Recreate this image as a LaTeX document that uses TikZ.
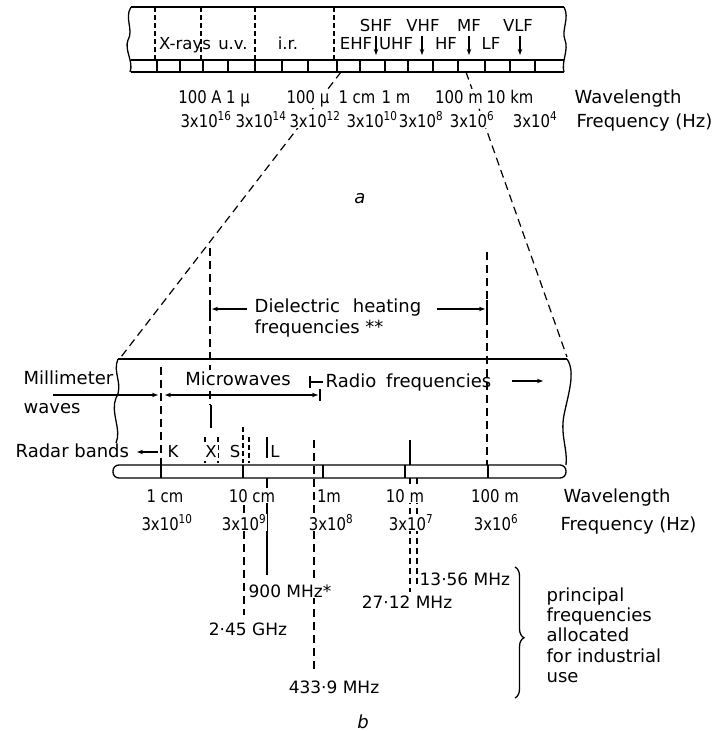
\documentclass[tikz,border=0pt]{standalone}
\usepackage{fontspec}
\setmainfont{DejaVu Sans}
\newfontfamily\numfont[FakeStretch=0.85]{DejaVu Sans}
\usetikzlibrary{arrows.meta,decorations.pathreplacing}
\newcommand{\tenp}[1]{3x10\textsuperscript{#1}}
\begin{document}
\begin{tikzpicture}[x=1pt, y=-1pt, line width=1.3pt,
    every node/.style={font=\fontsize{18}{20.3}\selectfont, inner sep=1pt, anchor=base},
    lbl/.style={fill=white},
    num/.style={fill=white, font=\fontsize{17.5}{20}\numfont},
    band/.style={font=\fontsize{16.5}{20}\selectfont},
    mhz/.style={fill=white, font=\fontsize{17}{20}\selectfont},
    dln/.style={line width=1.2pt, dash pattern=on 8pt off 5pt},
    tip/.style={-{Stealth[length=6pt,width=4.5pt]}}]
  \useasboundingbox (0,0) rectangle (717,731);
  % spectrum bar (a)
  \draw (131,7) -- (564,7) (131,60) -- (564,60) (131,72) -- (564,72);
  \draw (131,7) .. controls (124,18) and (134,30) .. (128,40) .. controls (124,50) and (134,62) .. (130,72);
  \draw (564,7) .. controls (570,18) and (561,30) .. (565,40) .. controls (569,50) and (561,62) .. (564,72);
  \foreach \x in {157,180,203,228,255,282,308,337,360,385,408,433,458,485,510,535}
    \draw (\x,60) -- (\x,72);
  \foreach \x in {155,201,255,334}
    \draw[dln, dash pattern=on 5pt off 3pt] (\x,7) -- (\x,60);
  \foreach \x in {376,422,469,520}
    \draw[tip] (\x,36) -- (\x,55);
  \node[band] (xray) at (185,49) {X-rays};
  \node[band] (uv)   at (233,49) {u.v.};
  \node[band] (ir)   at (288,49) {i.r.};
  \node[band] (ehf)  at (356,49) {EHF};
  \node[band] (uhf)  at (396,49) {UHF};
  \node[band] (hf)   at (446,49) {HF};
  \node[band] (lf)   at (491,49) {LF};
  \node[band] (shf)  at (376,31) {SHF};
  \node[band] (vhf)  at (423,31) {VHF};
  \node[band] (mf)   at (469,31) {MF};
  \node[band] (vlf)  at (518,31) {VLF};
  % zoom lines from (a) to (b)
  \draw[dln] (341,72) -- (121,357);
  \draw[dln] (466,72) -- (567,357);
  % scales of (a)
  \node[num] (wa1) at (200,103) {100 A};
  \node[num] (wa2) at (238,103) {1 µ};
  \node[num] (wa3) at (308,103) {100 µ};
  \node[num] (wa4) at (357,103) {1 cm};
  \node[num] (wa5) at (396,103) {1 m};
  \node[num] (wa6) at (459,103) {100 m};
  \node[num] (wa7) at (510,103) {10 km};
  \node[lbl, anchor=base west] (wla) at (573,103) {Wavelength};
  \node[num] (fa1) at (206,127) {\tenp{16}};
  \node[num] (fa2) at (261,127) {\tenp{14}};
  \node[num] (fa3) at (315,127) {\tenp{12}};
  \node[num] (fa4) at (372,127) {\tenp{10}};
  \node[num] (fa5) at (421,127) {\tenp{8}};
  \node[num] (fa6) at (472,127) {\tenp{6}};
  \node[num] (fa7) at (535,127) {\tenp{4}};
  \node[lbl, anchor=base west] (fqa) at (575,127) {Frequency (Hz)};
  \node[font=\fontsize{18}{20}\itshape] (capa) at (360,203) {a};
  % dielectric heating range
  \draw[dln] (210,248) -- (210,405);
  \draw (211,405) -- (211,428);
  \draw[dln] (487,252) -- (487,465);
  \draw (210,300) -- (210,320) (487,300) -- (487,320);
  \draw[tip] (247,309) -- (212,309);
  \draw[tip] (437,309) -- (485,309);
  \node[anchor=base west] (diel) at (253,312) {Dielectric\hspace{13pt}heating};
  \node[anchor=base west] (dielf) at (253,333) {frequencies **};
  % spectrum bar (b)
  \draw (118,359) -- (567,359);
  \draw (118,359) .. controls (112,372) and (124,385) .. (116,398) .. controls (110,412) and (122,430) .. (116,443);
  \draw (567,359) .. controls (576,372) and (568,395) .. (564,415) .. controls (560,435) and (568,450) .. (566,465);
  \draw[rounded corners=6pt] (566,465) -- (113,465) -- (113,478) -- (566,478) -- cycle;
  \foreach \x in {161,243,323,405,488}
    \draw (\x,465) -- (\x,478);
  % band boundaries
  \draw[dln] (161,367) -- (161,478);
  \draw[dln, dash pattern=on 5pt off 3pt] (205,437) -- (205,463) (218,437) -- (218,463);
  \draw[dln, dash pattern=on 5pt off 3pt] (243,427) -- (243,463) (249,437) -- (249,463);
  \draw (267,437) -- (267,458);
  \draw[dln] (314,440) -- (314,670);
  \draw (410,440) -- (410,465);
  % industrial frequencies
  \draw[dln] (244,505) -- (244,615);
  \draw (267,478) -- (267,575);
  \draw[dln, dash pattern=on 6pt off 4pt] (410,478) -- (410,592);
  \draw[dln, dash pattern=on 6pt off 4pt] (417,478) -- (417,585);
  % regions
  \node[anchor=base west] (mmw) at (22,384) {Millimeter};
  \node[anchor=base west] (mmw2) at (22,413) {waves};
  \node[lbl] (micro) at (238,385) {Microwaves};
  \node[anchor=base west] (radio) at (324,387) {Radio\hspace{10pt}frequencies};
  \draw[tip] (53,395) -- (158,395);
  \draw[{Stealth[length=6pt,width=4.5pt]}-{Stealth[length=6pt,width=4.5pt]}] (165,395) -- (318,395);
  \draw (320,389) -- (320,401);
  \draw (310,376) -- (310,388) (310,382) -- (323,382);
  \draw[tip] (512,381) -- (543,381);
  % radar bands
  \node[anchor=base west] (radar) at (14,457) {Radar bands};
  \draw[tip] (158,452) -- (137,452);
  \node[lbl, band] (bk) at (173,457) {K};
  \node[lbl, band] (bx) at (211,457) {X};
  \node[lbl, band] (bs) at (235,457) {S};
  \node[lbl, band] (bl) at (275,457) {L};
  % scales of (b)
  \node[num] (wb1) at (165,502) {1 cm};
  \node[num] (wb2) at (252,502) {10 cm};
  \node[num] (wb3) at (329,502) {1m};
  \node[num] (wb4) at (405,502) {10 m};
  \node[num] (wb5) at (495,502) {100 m};
  \node[lbl, anchor=base west] (wlb) at (562,502) {Wavelength};
  \node[num] (fb1) at (167,530) {\tenp{10}};
  \node[num] (fb2) at (244,530) {\tenp{9}};
  \node[num] (fb3) at (331,530) {\tenp{8}};
  \node[num] (fb4) at (411,530) {\tenp{7}};
  \node[num] (fb5) at (496,530) {\tenp{6}};
  \node[lbl, anchor=base west] (fqb) at (559,530) {Frequency (Hz)};
  % allocated frequencies
  \node[mhz, anchor=base west] (f900) at (247,597) {900 MHz*};
  \node[mhz] (f2450) at (248,635) {2·45 GHz};
  \node[mhz] (f433) at (334,693) {433·9 MHz};
  \node[mhz, anchor=base west] (f1356) at (418,585) {13·56 MHz};
  \node[mhz] (f2712) at (407,608) {27·12 MHz};
  \draw[decorate, decoration={brace, amplitude=9pt, aspect=0.54}] (515,567) -- (515,698);
  \node[anchor=north west, align=left] (use) at (545,586) {principal\\frequencies\\allocated\\for industrial\\use};
  \node[font=\fontsize{18}{20}\itshape] (capb) at (363,728) {b};
\end{tikzpicture}
\end{document}
